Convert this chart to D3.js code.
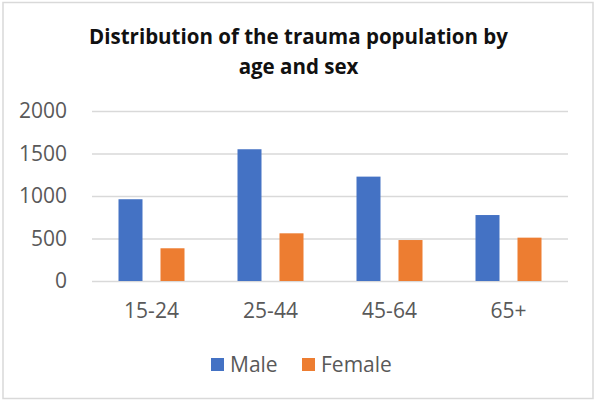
<!DOCTYPE html>
<html>
<head>
<meta charset="utf-8">
<script src="https://cdn.jsdelivr.net/npm/d3@7"></script>
<style>
  html, body { margin: 0; padding: 0; background: #fff; }
  svg { display: block; }
</style>
</head>
<body>
<svg id="chart" width="597" height="403"></svg>
<script>
const categories = ["15-24", "25-44", "45-64", "65+"];
const seriesNames = ["Male", "Female"];
const maleValues = [962, 1550, 1228, 776];
const femaleValues = [385, 561, 482, 510];
const yTicks = [0, 500, 1000, 1500, 2000];
const titleLines = ["Distribution of the trauma population by", "age and sex"];
const colors = ["#4472C4", "#ED7D31"];

const values = { Male: maleValues, Female: femaleValues };
const svg = d3.select("#chart");
const plot = { left: 92, right: 568, top: 111, bottom: 281 };
const labelFont = "'Open Sans', sans-serif";
const labelSize = 21;

// outer frame
svg.append("rect").attr("x", 3).attr("y", 2.5).attr("width", 590).attr("height", 396)
  .attr("fill", "#fff").attr("stroke", "#d9d9d9").attr("stroke-width", 1.5);

// title
const title = svg.append("text").attr("text-anchor", "middle")
  .attr("font-family", labelFont).attr("font-weight", "bold")
  .attr("font-size", 20.5).attr("fill", "#111");
titleLines.forEach((t, i) => {
  title.append("tspan").attr("x", 298.5).attr("y", 44 + i * 30).text(t);
});

const x0 = d3.scaleBand().domain(categories).range([plot.left, plot.right]).padding(0);
const x1 = d3.scaleBand().domain(seriesNames).range([0, x0.bandwidth()])
  .paddingInner(0.4286).paddingOuter(0.631);
const y = d3.scaleLinear().domain([0, 2000]).range([plot.bottom, plot.top]);

// gridlines + y labels
const yAxis = d3.axisLeft(y).tickValues(yTicks).tickFormat(d3.format("d"))
  .tickSize(-(plot.right - plot.left)).tickPadding(25);
const gy = svg.append("g").attr("transform", `translate(${plot.left},0)`).call(yAxis);
gy.select(".domain").remove();
gy.selectAll(".tick line").attr("stroke", "#d9d9d9").attr("stroke-width", 1.5);
gy.selectAll(".tick text").attr("font-family", labelFont).attr("font-size", labelSize)
  .attr("fill", "#595959");

// bars
const groups = svg.append("g").selectAll("g").data(categories).join("g")
  .attr("transform", d => `translate(${x0(d)},0)`);
groups.selectAll("rect")
  .data((d, i) => seriesNames.map((s, k) => ({ s, v: values[s][i], k })))
  .join("rect")
  .attr("x", d => x1(d.s))
  .attr("width", x1.bandwidth())
  .attr("y", d => y(d.v))
  .attr("height", d => y(0) - y(d.v))
  .attr("fill", d => colors[d.k]);

// x axis labels
const xAxis = d3.axisBottom(x0).tickSize(0).tickPadding(22);
const gx = svg.append("g").attr("transform", `translate(0,${plot.bottom})`).call(xAxis);
gx.select(".domain").remove();
gx.selectAll(".tick text").attr("font-family", labelFont).attr("font-size", labelSize)
  .attr("fill", "#595959");

// legend
const legendX = [211, 302];
const legend = svg.append("g");
seriesNames.forEach((s, i) => {
  legend.append("rect").attr("x", legendX[i]).attr("y", 358).attr("width", 13).attr("height", 13)
    .attr("fill", colors[i]);
  legend.append("text").attr("x", legendX[i] + 19).attr("y", 372)
    .attr("font-family", labelFont).attr("font-size", labelSize).attr("fill", "#595959").text(s);
});
</script>
</body>
</html>
